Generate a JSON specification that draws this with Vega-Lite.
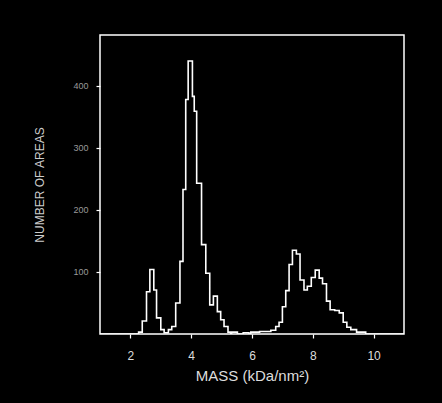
{
  "$schema": "https://vega.github.io/schema/vega-lite/v6.json",
  "width": 304,
  "height": 299,
  "autosize": {"type": "none"},
  "padding": {"left": 100, "top": 35, "right": 38, "bottom": 69},
  "background": "black",
  "config": {
    "view": {"stroke": "white", "strokeWidth": 1.5, "fill": "black"},
    "font": "Liberation Sans"
  },
  "data": {
    "values": [
      {"mass": 1.0, "count": 0},
      {"mass": 2.27, "count": 3},
      {"mass": 2.39, "count": 21},
      {"mass": 2.53, "count": 68},
      {"mass": 2.64, "count": 104},
      {"mass": 2.77, "count": 71},
      {"mass": 2.86, "count": 26},
      {"mass": 3.0, "count": 7},
      {"mass": 3.11, "count": 2},
      {"mass": 3.25, "count": 7},
      {"mass": 3.36, "count": 12},
      {"mass": 3.49, "count": 50},
      {"mass": 3.63, "count": 117},
      {"mass": 3.73, "count": 233},
      {"mass": 3.82, "count": 378},
      {"mass": 3.9, "count": 440},
      {"mass": 4.04, "count": 383},
      {"mass": 4.1, "count": 359},
      {"mass": 4.18, "count": 243},
      {"mass": 4.34, "count": 144},
      {"mass": 4.48, "count": 98},
      {"mass": 4.61, "count": 47},
      {"mass": 4.73, "count": 61},
      {"mass": 4.86, "count": 36},
      {"mass": 4.97, "count": 23},
      {"mass": 5.08, "count": 12},
      {"mass": 5.21, "count": 3},
      {"mass": 5.3, "count": 0},
      {"mass": 5.33, "count": 3},
      {"mass": 5.52, "count": 0},
      {"mass": 5.71, "count": 2},
      {"mass": 5.9, "count": 0},
      {"mass": 5.96, "count": 3},
      {"mass": 6.25, "count": 4},
      {"mass": 6.62, "count": 6},
      {"mass": 6.78, "count": 12},
      {"mass": 6.89, "count": 19},
      {"mass": 7.0, "count": 44},
      {"mass": 7.11, "count": 70},
      {"mass": 7.22, "count": 112},
      {"mass": 7.33, "count": 135},
      {"mass": 7.46, "count": 129},
      {"mass": 7.58, "count": 87},
      {"mass": 7.71, "count": 71},
      {"mass": 7.82, "count": 77},
      {"mass": 7.95, "count": 91},
      {"mass": 8.08, "count": 103},
      {"mass": 8.21, "count": 90},
      {"mass": 8.32, "count": 81},
      {"mass": 8.45, "count": 53},
      {"mass": 8.57, "count": 39},
      {"mass": 8.72, "count": 38},
      {"mass": 8.87, "count": 34},
      {"mass": 9.0, "count": 19},
      {"mass": 9.12, "count": 11},
      {"mass": 9.25, "count": 7},
      {"mass": 9.44, "count": 3},
      {"mass": 9.74, "count": 0},
      {"mass": 11.0, "count": 0}
    ]
  },
  "mark": {"type": "line", "interpolate": "step-after", "color": "white", "strokeWidth": 1.6, "clip": true},
  "encoding": {
    "x": {
      "field": "mass",
      "type": "quantitative",
      "scale": {"domain": [1, 11], "nice": false, "zero": false},
      "axis": {
        "values": [2, 4, 6, 8, 10],
        "title": "MASS (kDa/nm²)",
        "grid": false,
        "domain": false,
        "tickColor": "white",
        "tickSize": 4,
        "tickWidth": 1.2,
        "labelColor": "#dddddd",
        "labelFontSize": 12,
        "labelPadding": 12,
        "titleColor": "#dddddd",
        "titleFontSize": 15,
        "titleFontWeight": "normal",
        "titlePadding": 7
      }
    },
    "y": {
      "field": "count",
      "type": "quantitative",
      "scale": {"domain": [0, 482], "nice": false},
      "axis": {
        "values": [100, 200, 300, 400],
        "title": "NUMBER OF AREAS",
        "grid": false,
        "domain": false,
        "tickColor": "white",
        "tickSize": 4,
        "tickWidth": 1.2,
        "labelColor": "#999999",
        "labelFontSize": 9,
        "labelPadding": 8,
        "titleColor": "#cccccc",
        "titleFontSize": 12,
        "titleFontWeight": "normal",
        "titlePadding": 26
      }
    }
  }
}
